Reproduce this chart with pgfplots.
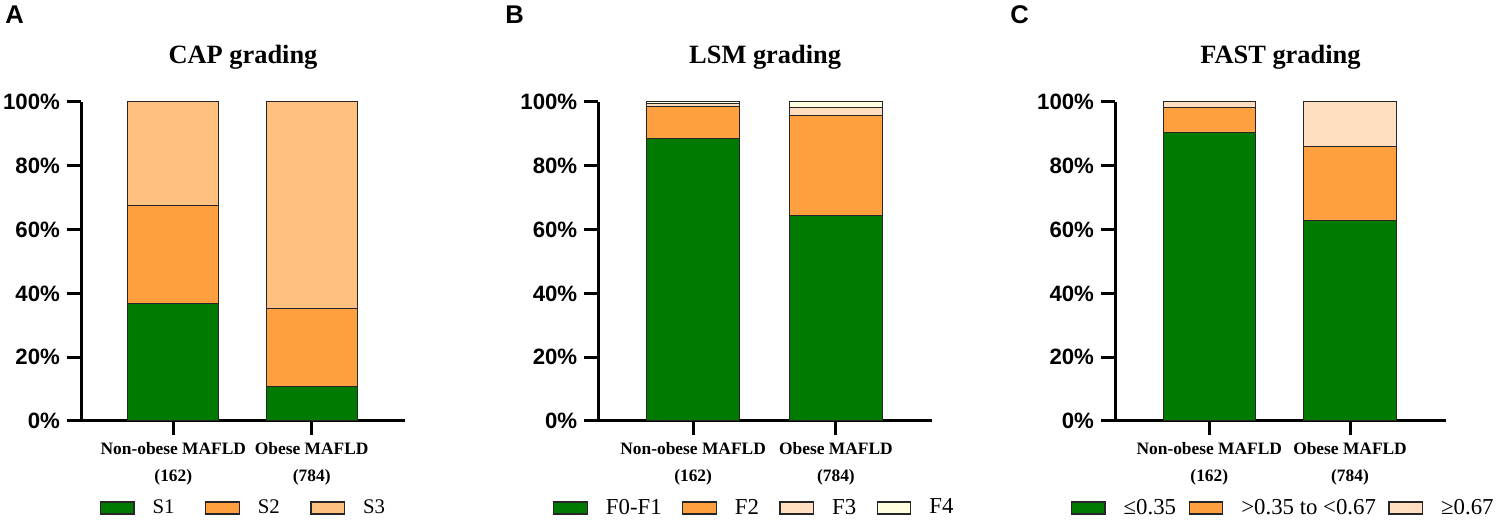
\documentclass[border=0pt]{standalone}
\usepackage{fontspec}
\setmainfont{Liberation Serif}
\setsansfont{Liberation Sans}
\usepackage{pgfplots}
\pgfplotsset{compat=1.18}
\definecolor{cgreen}{RGB}{0,122,0}
\definecolor{corange}{RGB}{255,160,64}
\definecolor{clight}{RGB}{255,192,128}
\definecolor{cpeach}{RGB}{255,222,194}
\definecolor{ccream}{RGB}{255,255,224}
\pgfplotsset{
  panel/.style={
    scale only axis, height=159.5pt,
    ymin=0, ymax=100,
    ybar stacked, bar width=0.655,
    axis x line*=bottom, axis y line*=left,
    axis line style={line width=1.5pt, -},
    x axis line style={shorten <=-7pt},
    tick align=outside, major tick length=7pt,
    tick style={line width=1.5pt, black},
    ytick={0,20,40,60,80,100},
    yticklabels={0\%,20\%,40\%,60\%,80\%,100\%},
    yticklabel style={font=\fontsize{11.1}{12}\selectfont\sffamily\bfseries},
    xtick={0,1},
    xticklabels={{Non-obese MAFLD\\(162)},{Obese MAFLD\\(784)}},
    xticklabel style={align=center, font=\fontsize{8.7}{13.5}\selectfont\bfseries},
    title style={at={(0.5,1)}, anchor=base, yshift=13pt, font=\fontsize{13.2}{15}\selectfont\bfseries},
    legend columns=-1,
    legend image code/.code={\draw[#1, line width=0.6pt] (0pt,-3pt) rectangle (16.75pt,3pt);},
    legend style={draw=none, fill=none, inner sep=0pt, outer sep=0pt, anchor=west,
      font=\fontsize{11.4}{13}\selectfont, nodes={inner sep=0pt},
      /tikz/every odd column/.append style={column sep=9pt}},
  },
  bars/.style={draw=black!85, line width=0.5pt},
}
\begin{document}
\begin{tikzpicture}
\useasboundingbox (0,0) rectangle (752.5pt,262pt);
% Panel A
\begin{axis}[panel, at={(40.5pt,51.5pt)}, anchor=south west, width=162pt,
  xmin=-0.667, xmax=1.674, title={CAP grading},
  legend style={at={(0.0586,-0.2727)}, font=\fontsize{10.4}{12}\selectfont,
    /tikz/every even column/.append style={column sep=15.25pt}}]
\addplot[bars, fill=cgreen] coordinates {(0,36.8) (1,10.7)};
\addplot[bars, fill=corange] coordinates {(0,30.8) (1,24.6)};
\addplot[bars, fill=clight] coordinates {(0,32.4) (1,64.7)};
\legend{S1,S2,S3}
\end{axis}
% Panel B
\begin{axis}[panel, at={(299.15pt,51.5pt)}, anchor=south west, width=166.85pt,
  xmin=-0.664, xmax=1.673, title={LSM grading},
  legend style={at={(-0.135,-0.2727)}, /tikz/every even column/.append style={column sep=10.25pt}}]
\addplot[bars, fill=cgreen] coordinates {(0,88.6) (1,64.4)};
\addplot[bars, fill=corange] coordinates {(0,9.9) (1,31.5)};
\addplot[bars, fill=cpeach] coordinates {(0,0.9) (1,2.4)};
\addplot[bars, fill=ccream] coordinates {(0,0.6) (1,1.7)};
\legend{F0-F1,F2,F3,F4}
\end{axis}
% Panel C
\begin{axis}[panel, at={(557.5pt,51.5pt)}, anchor=south west, width=165.5pt,
  xmin=-0.670, xmax=1.682, title={FAST grading},
  legend style={at={(-0.133,-0.2727)}, /tikz/every even column/.append style={column sep=6.25pt}}]
\addplot[bars, fill=cgreen] coordinates {(0,90.3) (1,62.9)};
\addplot[bars, fill=corange] coordinates {(0,8.1) (1,23.1)};
\addplot[bars, fill=cpeach] coordinates {(0,1.6) (1,14.0)};
\legend{≤0.35,>0.35 to <0.67,≥0.67}
\end{axis}
\node[anchor=base west, inner sep=0pt, font=\fontsize{12.8}{13}\selectfont\sffamily\bfseries] at (2.5pt,250pt) {A};
\node[anchor=base west, inner sep=0pt, font=\fontsize{12.8}{13}\selectfont\sffamily\bfseries] at (252.5pt,250pt) {B};
\node[anchor=base west, inner sep=0pt, font=\fontsize{12.8}{13}\selectfont\sffamily\bfseries] at (505pt,250pt) {C};
\end{tikzpicture}
\end{document}
